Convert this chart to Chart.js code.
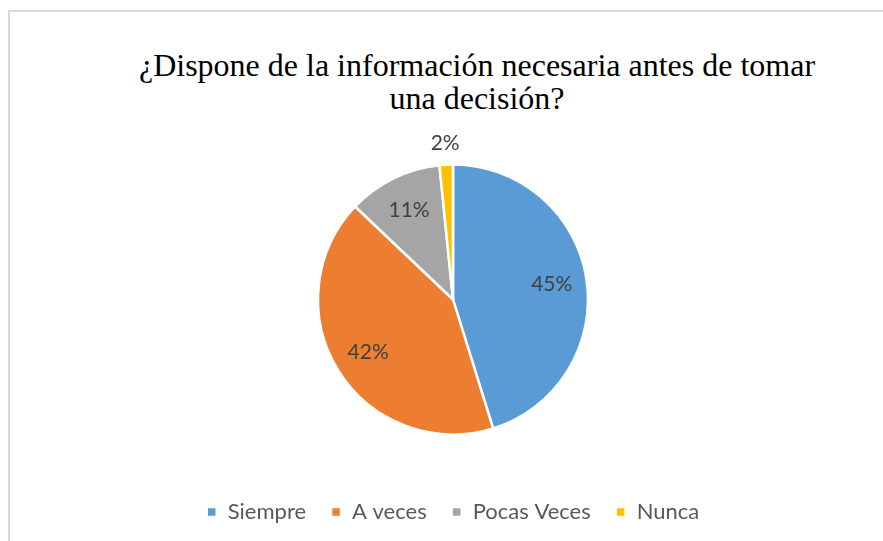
<!DOCTYPE html>
<html>
<head>
<meta charset="utf-8">
<script src="https://cdn.jsdelivr.net/npm/chart.js@4"></script>
<style>
  html, body { margin: 0; padding: 0; background: #fff; overflow: hidden; }
  #marco { position: absolute; left: 8px; top: 10px; width: 1000px; height: 700px; border: 2px solid #d9d9d9; }
  #titulo { position: absolute; left: 8px; width: 938px; top: 49px; text-align: center;
            font-family: "Liberation Serif", "Times New Roman", serif; font-size: 32px; line-height: 33px; color: #000; }
  #grafico { position: absolute; left: 0; top: 0; }
</style>
</head>
<body>
<div id="marco"></div>
<div id="titulo">¿Dispone de la información necesaria antes de tomar<br>una decisión?</div>
<canvas id="grafico" width="883" height="541"></canvas>
<script>
// ---------------------- Datos ----------------------
var categorias = ['Siempre', 'A veces', 'Pocas Veces', 'Nunca'];
var porcentajes = [45.2, 41.9, 11.3, 1.6];
var colores = ['#5b9bd5', '#ed7d31', '#a5a5a5', '#ffc000'];

// etiquetas de porcentaje dentro / fuera de cada porción
var etiquetasPlugin = {
    id: 'etiquetas',
    afterDatasetsDraw: function(chart) {
        var ctx = chart.ctx;
        var meta = chart.getDatasetMeta(0);
        var total = porcentajes.reduce(function(a, b) { return a + b; }, 0);
        ctx.save();
        ctx.font = '21px Lato';
        ctx.fillStyle = '#404040';
        ctx.textAlign = 'center';
        ctx.textBaseline = 'middle';
        meta.data.forEach(function(arc, i) {
            var p = arc.getProps(['x', 'y', 'startAngle', 'endAngle', 'outerRadius'], true);
            var medio = (p.startAngle + p.endAngle) / 2;
            var pct = porcentajes[i] / total * 100;
            var r = pct < 5 ? p.outerRadius + 21 : p.outerRadius * 0.74;
            var texto = Math.round(pct) + '%';
            ctx.fillText(texto, p.x + Math.cos(medio) * r, p.y + Math.sin(medio) * r);
        });
        ctx.restore();
    }
};

function afficherGrafico() {
    var ctx = document.getElementById('grafico');
    new Chart(ctx, {
        type: 'pie',
        data: {
            labels: categorias,
            datasets: [{
                data: porcentajes,
                backgroundColor: colores,
                borderColor: '#ffffff',
                borderWidth: 2.5,
                radius: 135
            }]
        },
        options: {
            responsive: false,
            animation: false,
            layout: {
                padding: { top: 123, bottom: 8, left: 23, right: 0 }
            },
            plugins: {
                legend: {
                    position: 'bottom',
                    labels: {
                        font: { family: 'Lato', size: 22 },
                        color: '#595959',
                        boxWidth: 10,
                        boxHeight: 10,
                        padding: 25
                    }
                },
                tooltip: { enabled: false }
            }
        },
        plugins: [etiquetasPlugin]
    });
}

afficherGrafico();
</script>
</body>
</html>
